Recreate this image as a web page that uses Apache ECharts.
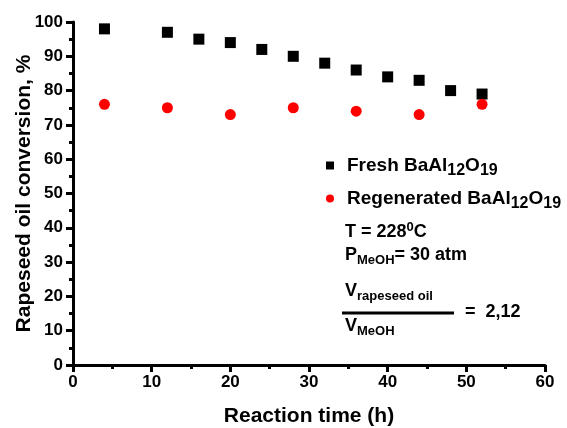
<!DOCTYPE html>
<html><head><meta charset="utf-8">
<script src="https://cdn.jsdelivr.net/npm/echarts@6/dist/echarts.min.js"></script>
<style>html,body{margin:0;padding:0;background:#fff}#c{width:567px;height:428px}</style>
</head><body><div id="c"></div>
<script>
const freshTime = [4, 12, 16, 20, 24, 28, 32, 36, 40, 44, 48, 52];
const freshConv = [98, 97, 95, 94, 92, 90, 88, 86, 84, 83, 80, 79];
const regenTime = [4, 12, 20, 28, 36, 44, 52];
const regenConv = [76, 75, 73, 75, 74, 73, 76];
const xTicks = [0, 10, 20, 30, 40, 50, 60];
const yTicks = [0, 10, 20, 30, 40, 50, 60, 70, 80, 90, 100];

const FONT = '"Liberation Sans", Arial, sans-serif';
const chart = echarts.init(document.getElementById('c'), null, {renderer: 'canvas'});
const axisCommon = {
  axisLine: {show: true, onZero: false, lineStyle: {color: '#000', width: 3}},
  axisTick: {show: true, inside: false, length: 7, lineStyle: {color: '#000', width: 3}},
  minorTick: {show: true, splitNumber: 2, length: 4, lineStyle: {color: '#000', width: 3}},
  splitLine: {show: false},
  nameMoveOverlap: false,
  axisLabel: {color: '#000', fontFamily: FONT, fontWeight: 'bold', fontSize: 17},
  nameTextStyle: {color: '#000', fontFamily: FONT, fontWeight: 'bold', fontSize: 21}
};
const sub = {fontFamily: FONT, fontWeight: 'bold', fontSize: 16, color: '#000', padding: [11, 0, 0, 0]};
const sub2 = {fontFamily: FONT, fontWeight: 'bold', fontSize: 13, color: '#000', padding: [11, 0, 0, 0]};
const sup = {fontFamily: FONT, fontWeight: 'bold', fontSize: 13, color: '#000', padding: [0, 0, 9, 0]};
const main = {fontFamily: FONT, fontWeight: 'bold', fontSize: 18, color: '#000'};
const leg = Object.assign({}, main, {fontSize: 19});
const leg0 = Object.assign({}, leg, {padding: [0, 0, 0, 8]});
const legendLabels = {
  'Fresh': '{m0|Fresh BaAl}{s|12}{m|O}{s|19}',
  'Regenerated': '{m0|Regenerated BaAl}{s|12}{m|O}{s|19}'
};
chart.setOption({
  animation: false,
  grid: {left: 73, right: 22, top: 22, bottom: 63, containLabel: false, outerBoundsMode: 'none'},
  xAxis: Object.assign({}, axisCommon, {
    type: 'value', min: xTicks[0], max: xTicks[xTicks.length - 1], interval: 10,
    name: 'Reaction time (h)', nameLocation: 'middle', nameGap: 41,
    axisLabel: Object.assign({}, axisCommon.axisLabel, {margin: 9})
  }),
  yAxis: Object.assign({}, axisCommon, {
    type: 'value', min: yTicks[0], max: yTicks[yTicks.length - 1], interval: 10,
    name: 'Rapeseed oil conversion, %', nameLocation: 'middle', nameGap: 38,
    axisLabel: Object.assign({}, axisCommon.axisLabel, {margin: 10})
  }),
  legend: {
    orient: 'vertical', left: 321, top: 151, itemGap: 10,
    itemWidth: 8, itemHeight: 8,
    formatter: n => legendLabels[n],
    textStyle: {rich: {m: leg, m0: leg0, s: sub}},
    data: [{name: 'Fresh', icon: 'rect'}, {name: 'Regenerated', icon: 'circle'}]
  },
  series: [
    {name: 'Fresh', type: 'scatter', symbol: 'rect', symbolSize: 11,
     itemStyle: {color: '#000', opacity: 1}, data: freshTime.map((t, i) => [t, freshConv[i]])},
    {name: 'Regenerated', type: 'scatter', symbol: 'circle', symbolSize: 11,
     itemStyle: {color: '#ff0000', opacity: 1}, data: regenTime.map((t, i) => [t, regenConv[i]])}
  ],
  graphic: [
    {type: 'text', left: 345, top: 221, style: {text: '{m|T = 228}{p|0}{m|C}', rich: {m: main, p: sup}}},
    {type: 'text', left: 345, top: 246, style: {text: '{m|P}{s|MeOH}{m|= 30 atm}', rich: {m: main, s: sub2}}},
    {type: 'text', left: 345, top: 282, style: {text: '{m|V}{s|rapeseed oil}', rich: {m: main, s: sub2}}},
    {type: 'line', shape: {x1: 342, y1: 313, x2: 454, y2: 313}, style: {stroke: '#000', lineWidth: 3}},
    {type: 'text', left: 345, top: 317, style: {text: '{m|V}{s|MeOH}', rich: {m: main, s: sub2}}},
    {type: 'text', left: 465, top: 303, style: {text: '=  2,12', font: 'bold 18px ' + FONT, fill: '#000'}}
  ]
});
</script></body></html>
